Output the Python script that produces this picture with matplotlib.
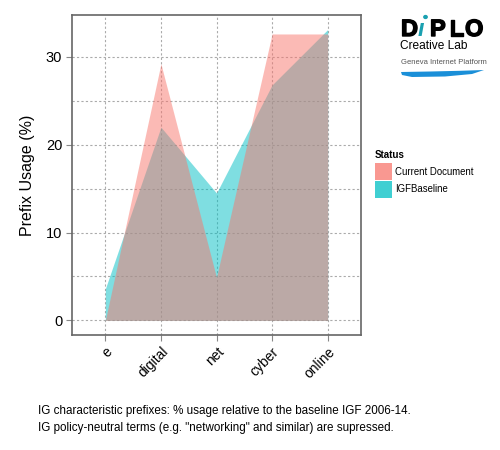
import matplotlib
matplotlib.use("Agg")
import matplotlib.pyplot as plt
import numpy as np
from matplotlib.patches import Polygon
import matplotlib.patheffects as pe

plt.rcParams['font.family'] = ['Liberation Sans', 'DejaVu Sans']

categories = ["e", "digital", "net", "cyber", "online"]
current_doc = [0.0, 29.2, 4.9, 32.6, 32.6]
igf_baseline = [3.6, 22.0, 14.5, 26.8, 33.1]
series_names = ["Current Document", "IGFBaseline"]
y_ticks = [0, 10, 20, 30]
caption = ["IG characteristic prefixes: % usage relative to the baseline IGF 2006-14.",
           "IG policy-neutral terms (e.g. \"networking\" and similar) are supressed."]

pink = "#F8766D"
teal = "#00BFC4"

W, H = 500, 450
def fx(px):
    return px / W
def fy(py):
    return 1 - py / H

fig = plt.figure(figsize=(5, 4.5), dpi=100)
ax = fig.add_axes([0.144, 0.2556, 0.578, 0.711])

x = np.arange(1, len(categories) + 1)
ax.fill_between(x, 0, igf_baseline, color=teal, alpha=0.5, linewidth=0, zorder=2)
ax.fill_between(x, 0, current_doc, color=pink, alpha=0.5, linewidth=0, zorder=3)

ax.set_xlim(0.4, 5.6)
ax.set_ylim(-1.655, 34.755)
ax.set_xticks(x)
ax.set_xticklabels(categories, rotation=45, ha='right', va='top', rotation_mode='anchor', fontsize=10)
ax.set_yticks(y_ticks)
ax.set_yticklabels([str(v) for v in y_ticks], fontsize=10.5)
ax.set_yticks([5, 15, 25], minor=True)
ax.tick_params(axis='both', which='major', length=4, color='#888888', width=0.8, pad=3)
ax.tick_params(axis='y', which='minor', length=0)

for ys in y_ticks + [5, 15, 25]:
    ax.axhline(ys, color='#aaaaaa', lw=0.8, ls=(0, (2, 2)), zorder=1)
for xs in x:
    ax.axvline(xs, color='#aaaaaa', lw=0.8, ls=(0, (2, 2)), zorder=1)

for s in ax.spines.values():
    s.set_color('#666666')
    s.set_linewidth(1.2)

ax.set_ylabel("Prefix Usage (%)", fontsize=11.5, labelpad=8)

# legend
fig.text(fx(375), fy(155), "Status", fontsize=7, fontweight='bold', ha='left', va='center')
leg_items = [(series_names[0], pink), (series_names[1], teal)]
for i, (name, col) in enumerate(leg_items):
    y0 = 163 + i * 17.5
    fig.patches.append(plt.Rectangle((fx(375), fy(y0 + 17)), 17 / W, 17 / H,
                                     transform=fig.transFigure, facecolor=col, alpha=0.75,
                                     edgecolor='none'))
    fig.text(fx(395), fy(y0 + 8.5), name, fontsize=6.9, ha='left', va='center')

# logo
stroke = [pe.withStroke(linewidth=1.0, foreground='black')]
for letter, px in [("D", 401), ("P", 430), ("L", 449), ("O", 465)]:
    fig.text(fx(px), fy(36), letter, fontsize=17, fontweight='bold', ha='left', va='baseline',
             color='black', path_effects=stroke)
fig.text(fx(418), fy(36), "ı", fontsize=17, fontweight='bold', style='italic', ha='left',
         va='baseline', color='#1aa0b0')
fig.patches.append(plt.Circle((fx(425.5), fy(17)), 2.4 / W, transform=fig.transFigure,
                              facecolor='#1aa0b0', edgecolor='none'))
fig.text(fx(400), fy(46), "Creative Lab", fontsize=8.6, ha='left', va='center')
fig.text(fx(401), fy(63), "Geneva Internet Platform", fontsize=5.5, ha='left', va='center',
         color='#555555')
sw = Polygon([(fx(401), fy(72)), (fx(430), fy(71.5)), (fx(460), fy(70.8)), (fx(484), fy(70)),
              (fx(472), fy(74)), (fx(445), fy(76.5)), (fx(412), fy(77)), (fx(402), fy(75))],
             closed=True, transform=fig.transFigure, facecolor='#1a8fd8', edgecolor='none')
fig.patches.append(sw)

fig.text(fx(38), fy(411), caption[0], fontsize=8.4, ha='left', va='center')
fig.text(fx(38), fy(428), caption[1], fontsize=8.4, ha='left', va='center')

fig.savefig("out.png", dpi=100)
